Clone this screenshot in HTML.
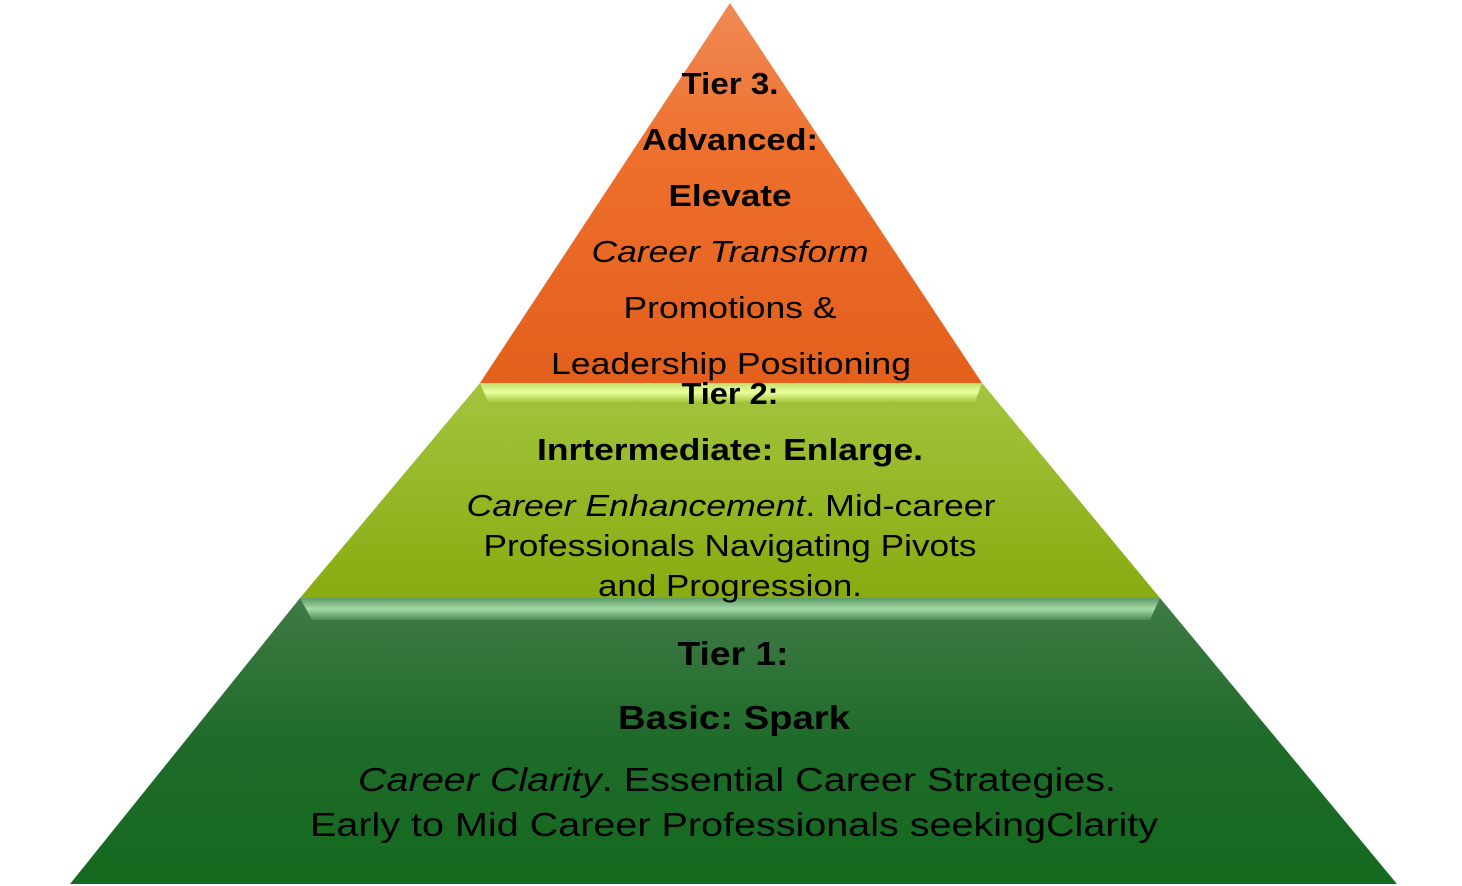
<!DOCTYPE html>
<html><head><meta charset="utf-8"><style>html,body{margin:0;padding:0;background:#fff;width:1462px;height:886px;overflow:hidden}</style></head>
<body>
<svg width="1462" height="886" viewBox="0 0 1462 886" xmlns="http://www.w3.org/2000/svg" font-family="Liberation Sans, sans-serif">
<defs>
<linearGradient id="o" x1="0" y1="0" x2="0" y2="1"><stop offset="0" stop-color="#f08a55"/><stop offset="0.4" stop-color="#ee6f2c"/><stop offset="1" stop-color="#e35f1c"/></linearGradient>
<linearGradient id="g2" x1="0" y1="0" x2="0" y2="1"><stop offset="0" stop-color="#a3c43e"/><stop offset="1" stop-color="#88ab10"/></linearGradient>
<linearGradient id="g1" x1="0" y1="0" x2="0" y2="1"><stop offset="0" stop-color="#3f7b46"/><stop offset="0.5" stop-color="#1f6b2a"/><stop offset="1" stop-color="#146a1e"/></linearGradient>
<linearGradient id="b2" x1="0" y1="0" x2="0" y2="1"><stop offset="0" stop-color="#c6e070"/><stop offset="0.5" stop-color="#eaff9a"/><stop offset="1" stop-color="#a8c840"/></linearGradient>
<linearGradient id="b1" x1="0" y1="0" x2="0" y2="1"><stop offset="0" stop-color="#5d9a66"/><stop offset="0.5" stop-color="#a6dca8"/><stop offset="1" stop-color="#4a8a52"/></linearGradient>
</defs>
<polygon points="730,3 982,383 480,383" fill="url(#o)"/>
<polygon points="480,383 982,383 1160,598 300,598" fill="url(#g2)"/>
<polygon points="480,383 982,383 975,402 488,402" fill="url(#b2)"/>
<polygon points="300,598 1160,598 1397,884 70,884" fill="url(#g1)"/>
<polygon points="300,598 1160,598 1150,620 312,620" fill="url(#b1)"/>
<g text-anchor="middle" fill="#000" lengthAdjust="spacingAndGlyphs">
<g font-weight="bold" font-size="31">
<text x="730" y="94" textLength="97" lengthAdjust="spacingAndGlyphs">Tier 3.</text>
<text x="730" y="150" textLength="176" lengthAdjust="spacingAndGlyphs">Advanced:</text>
<text x="730" y="206" textLength="123" lengthAdjust="spacingAndGlyphs">Elevate</text>
<text x="730" y="404" textLength="97" lengthAdjust="spacingAndGlyphs">Tier 2:</text>
<text x="730" y="460" textLength="386" lengthAdjust="spacingAndGlyphs">Inrtermediate: Enlarge.</text>
<text x="733" y="665" font-size="33" textLength="111" lengthAdjust="spacingAndGlyphs">Tier 1:</text>
<text x="734" y="729" font-size="33" textLength="232" lengthAdjust="spacingAndGlyphs">Basic: Spark</text>
</g>
<g font-size="31">
<text x="730" y="262" font-style="italic" textLength="277" lengthAdjust="spacingAndGlyphs">Career Transform</text>
<text x="730" y="318" textLength="213" lengthAdjust="spacingAndGlyphs">Promotions &amp;</text>
<text x="731" y="374" textLength="360" lengthAdjust="spacingAndGlyphs">Leadership Positioning</text>
<text x="731" y="516" textLength="529" lengthAdjust="spacingAndGlyphs"><tspan font-style="italic">Career Enhancement</tspan>. Mid-career</text>
<text x="730" y="556" textLength="493" lengthAdjust="spacingAndGlyphs">Professionals Navigating Pivots</text>
<text x="730" y="596" textLength="264" lengthAdjust="spacingAndGlyphs">and Progression.</text>
<text x="737" y="791" font-size="33" textLength="758" lengthAdjust="spacingAndGlyphs"><tspan font-style="italic">Career Clarity</tspan>. Essential Career Strategies.</text>
<text x="734" y="836" font-size="33" textLength="848" lengthAdjust="spacingAndGlyphs">Early to Mid Career Professionals seekingClarity</text>
</g>
</g>
</svg>
</body></html>
